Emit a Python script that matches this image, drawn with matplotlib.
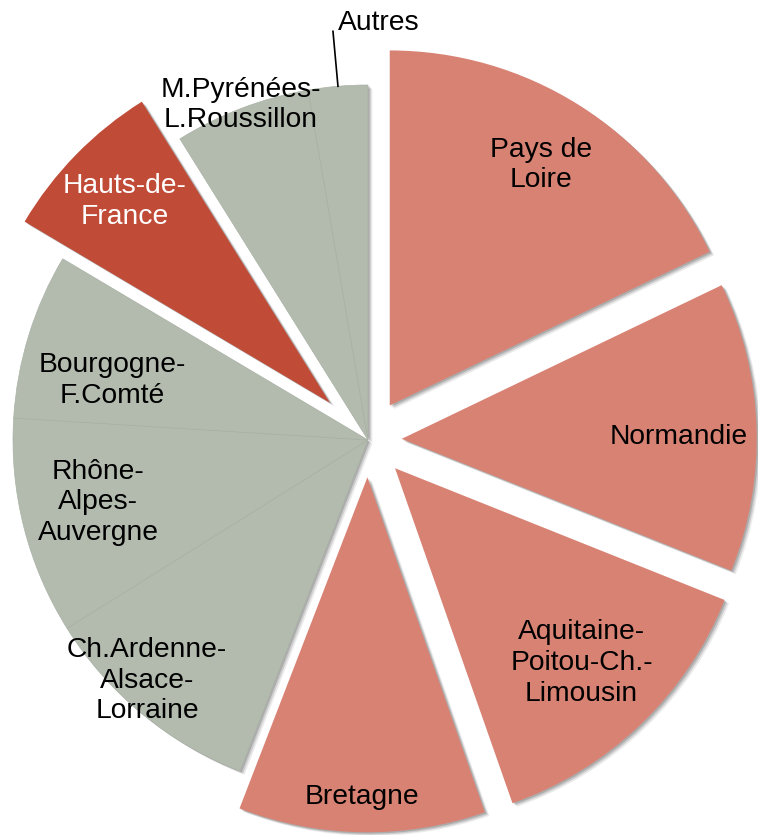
import numpy as np
import matplotlib
matplotlib.use("Agg")
import matplotlib.pyplot as plt
import matplotlib.patheffects as pe

# ---- data ----
regions = ["Pays de\nLoire", "Normandie", "Aquitaine-\nPoitou-Ch.-\nLimousin", "Bretagne",
           "Ch.Ardenne-\nAlsace-\nLorraine", "Rhône-\nAlpes-\nAuvergne", "Bourgogne-\nF.Comté",
           "Hauts-de-\nFrance", "M.Pyrénées-\nL.Roussillon", "Autres"]
shares = [17.9, 13.2, 13.6, 11.25, 10.25, 9.9, 7.55, 7.6, 6.2, 2.7]

# ---- style ----
SALMON = "#d88274"
RED = "#c04c38"
GREY = "#b3bbaf"
colors = [SALMON, SALMON, SALMON, SALMON, GREY, GREY, GREY, RED, GREY, GREY]
explode = [0.115, 0.095, 0.11, 0.105, 0, 0, 0, 0.15, 0, 0]
label_r = [0.80, 0.78, 0.76, 0.90, 0.92, 0.78, 0.74, 0.81, 1.01, None]
label_dtheta = [0, -1.5, 0, 0, -3.0, -1.2, 4.0, 0, 0, 0]
label_color = ["black"] * 7 + ["white", "black", "black"]

W, H = 758, 835
fig = plt.figure(figsize=(W / 100, H / 100), dpi=100)
ax = fig.add_axes([0, 0, 1, 1])

cx, cy, R = 368, 440, 355  # pixel centre and radius of pie

shadow = [pe.SimplePatchShadow(offset=(3.2, -2.6), shadow_rgbFace="k", alpha=0.08),
          pe.SimplePatchShadow(offset=(2.2, -1.8), shadow_rgbFace="k", alpha=0.12),
          pe.SimplePatchShadow(offset=(1.2, -1.0), shadow_rgbFace="k", alpha=0.16)]

# shadow layer (drawn first, underneath all slices)
shadow_wedges, _ = ax.pie(shares, colors=colors, explode=explode, startangle=90,
                          counterclock=False, radius=1.0)
for w in shadow_wedges:
    w.set_edgecolor("none")
    w.set_path_effects(shadow)
    w.set_zorder(1)

wedges, _ = ax.pie(shares, colors=colors, explode=explode, startangle=90,
                   counterclock=False, radius=1.0)
for i, w in enumerate(wedges):
    if colors[i] == GREY:
        w.set_edgecolor("#aab2a6")
        w.set_linewidth(0.5)
    else:
        w.set_edgecolor("none")
    w.set_zorder(2)

font = "Liberation Sans"
FS = 20.3
for i, w in enumerate(wedges):
    if label_r[i] is None:
        continue
    mid = np.deg2rad((w.theta1 + w.theta2) / 2 + label_dtheta[i])
    x = w.center[0] + label_r[i] * np.cos(mid)
    y = w.center[1] + label_r[i] * np.sin(mid)
    ax.text(x, y, regions[i], ha="center", va="center", fontsize=FS,
            family=font, color=label_color[i], linespacing=1.23, zorder=5)

# Autres: leader line + label
w = wedges[-1]
mid = np.deg2rad((w.theta1 + w.theta2) / 2)
x0, y0 = np.cos(mid), np.sin(mid)
x1, y1 = x0 - 5 / R, y0 + 55 / R
ax.plot([x0, x1], [y0, y1], color="black", lw=1.2, zorder=6)
ax.text(x1 + 5 / R, y1 + 1 / R, regions[-1], ha="left", va="baseline", fontsize=FS,
        family=font, color="black", zorder=6)

ax.set_xlim((0 - cx) / R, (W - cx) / R)
ax.set_ylim((cy - H) / R, (cy - 0) / R)
ax.set_aspect("auto")
ax.axis("off")

fig.savefig("out.png", dpi=100)
